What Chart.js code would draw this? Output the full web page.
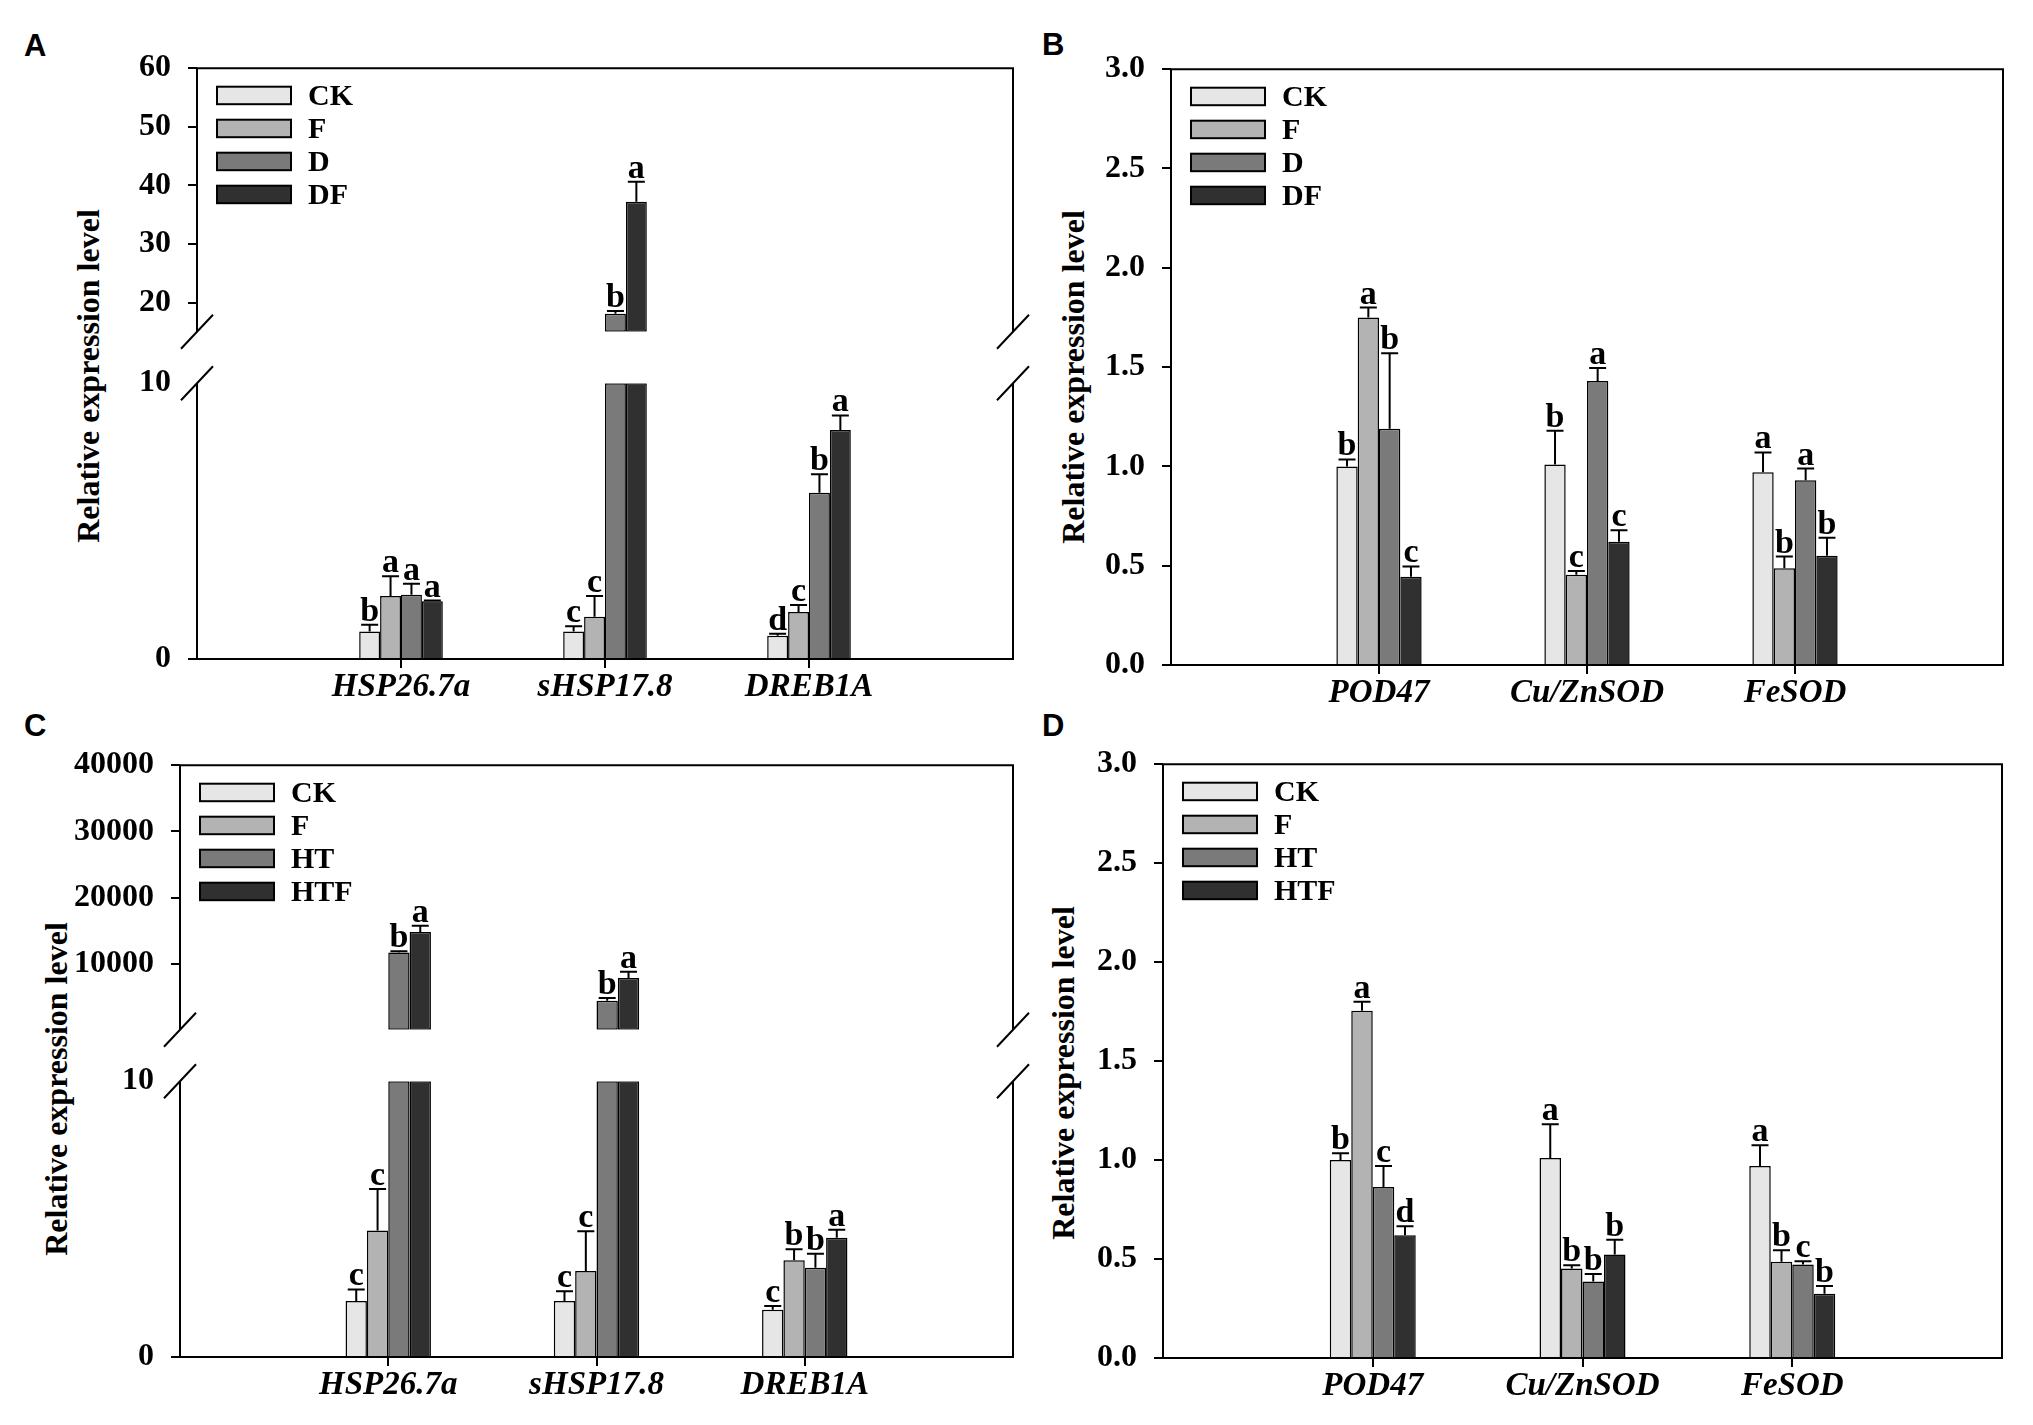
<!DOCTYPE html>
<html>
<head>
<meta charset="utf-8">
<title>Relative expression level</title>
<script src="https://cdn.jsdelivr.net/npm/chart.js@4.4.1/dist/chart.umd.min.js"></script>
<style>
  html, body { margin: 0; padding: 0; background: #fff; }
  body { width: 2033px; height: 1425px; position: relative; overflow: hidden; }
  canvas { position: absolute; }
  .tag { position: absolute; font-family: 'Liberation Sans', Arial, sans-serif; font-weight: bold; font-size: 31px; line-height: 1; }
  .ytitle { position: absolute; font-family: 'Liberation Serif', 'Times New Roman', serif; font-weight: bold; font-size: 32px; line-height: 1; white-space: nowrap; transform: translate(-50%, -50%) rotate(-90deg); }
</style>
</head>
<body>
<div class="tag" style="left:24px;top:30px">A</div>
<div class="tag" style="left:1042px;top:29px">B</div>
<div class="tag" style="left:24px;top:710px">C</div>
<div class="tag" style="left:1042px;top:710px">D</div>

<div class="ytitle" style="left:88px;top:376px">Relative expression level</div>
<div class="ytitle" style="left:1073px;top:377px">Relative expression level</div>
<div class="ytitle" style="left:56px;top:1089px">Relative expression level</div>
<div class="ytitle" style="left:1063px;top:1073px">Relative expression level</div>

<canvas id="aUp"></canvas>
<canvas id="aLow"></canvas>
<canvas id="bFull"></canvas>
<canvas id="cUp"></canvas>
<canvas id="cLow"></canvas>
<canvas id="dFull"></canvas>

<script>
// --- DADOS ---
const genesAC = ['HSP26.7a', 'sHSP17.8', 'DREB1A'];
const genesBD = ['POD47', 'Cu/ZnSOD', 'FeSOD'];
const seriesAB = ['CK', 'F', 'D', 'DF'];
const seriesCD = ['CK', 'F', 'HT', 'HTF'];

// painel A
const aCK = [1.00, 1.00, 0.84];
const aF = [2.28, 1.53, 1.70];
const aD = [2.33, 18.1, 6.03];
const aDF = [2.09, 37.2, 8.30];
const aErrCK = [0.24, 0.19, 0.08];
const aErrF = [0.72, 0.75, 0.26];
const aErrD = [0.40, 0.45, 0.67];
const aErrDF = [0.03, 3.4, 0.53];
const aSigCK = ['b', 'c', 'd'];
const aSigF = ['a', 'c', 'c'];
const aSigD = ['a', 'b', 'b'];
const aSigDF = ['a', 'a', 'a'];
const aTicksUp = [20, 30, 40, 50, 60];
const aTicksLow = [0, 10];

// painel B
const bCK = [1.00, 1.01, 0.97];
const bF = [1.75, 0.455, 0.487];
const bD = [1.19, 1.43, 0.93];
const bDF = [0.444, 0.62, 0.55];
const bErrCK = [0.035, 0.17, 0.10];
const bErrF = [0.05, 0.018, 0.059];
const bErrD = [0.38, 0.066, 0.059];
const bErrDF = [0.052, 0.059, 0.091];
const bSigCK = ['b', 'b', 'a'];
const bSigF = ['a', 'c', 'b'];
const bSigD = ['b', 'a', 'a'];
const bSigDF = ['c', 'c', 'b'];

// painel C
const cCK = [2.03, 2.03, 1.71];
const cF = [4.59, 3.12, 3.51];
const cHT = [11690, 4400, 3.24];
const cHTF = [14780, 7840, 4.32];
const cErrCK = [0.42, 0.35, 0.14];
const cErrF = [1.50, 1.44, 0.40];
const cErrHT = [190, 390, 0.50];
const cErrHTF = [960, 950, 0.29];
const cSigCK = ['c', 'c', 'c'];
const cSigF = ['c', 'c', 'b'];
const cSigHT = ['b', 'b', 'b'];
const cSigHTF = ['a', 'a', 'a'];
const cTicksUp = [10000, 20000, 30000, 40000];
const cTicksLow = [0, 10];

// painel D
const dCK = [1.00, 1.011, 0.97];
const dF = [1.755, 0.452, 0.486];
const dHT = [0.864, 0.386, 0.473];
const dHTF = [0.62, 0.523, 0.325];
const dErrCK = [0.034, 0.17, 0.105];
const dErrF = [0.045, 0.016, 0.059];
const dErrHT = [0.106, 0.039, 0.016];
const dErrHTF = [0.046, 0.075, 0.039];
const dSigCK = ['b', 'a', 'a'];
const dSigF = ['a', 'b', 'b'];
const dSigHT = ['c', 'b', 'c'];
const dSigHTF = ['d', 'b', 'b'];

const ticksBD = [0, 0.5, 1.0, 1.5, 2.0, 2.5, 3.0];

// --- ESTILO ---
const FONT = 'Liberation Serif';
const barColors = ['#e6e6e6', '#b3b3b3', '#7a7a7a', '#303030'];
const CLEAR = 'rgba(0,0,0,0)';

// monta um grafico (ou metade de um eixo quebrado)
function panelChart(id, area, p) {
    const yW = 130, padTop = 30, padRight = 40;
    const padBottom = p.mode === 'upper' ? 25 : 0;
    const xH = p.mode === 'upper' ? 0 : 70;
    const cv = document.getElementById(id);
    cv.width = area.right - area.left + yW + padRight;
    cv.height = area.bottom - area.top + padTop + padBottom + xH;
    cv.style.left = (area.left - yW) + 'px';
    cv.style.top = (area.top - padTop) + 'px';

    const labels = ['', ...p.genes, ''];
    const datasets = p.series.map((name, i) => {
        const vals = [null, ...p.values[i], null];
        let data = vals;
        if (p.mode === 'lower') data = vals.map(v => v == null ? null : Math.min(v, p.max));
        if (p.mode === 'upper') data = vals.map(v => (v != null && v > p.cut) ? [p.min, v] : null);
        return {
            label: name, data, vals,
            errs: [null, ...p.errs[i], null],
            sigs: [null, ...p.sigs[i], null],
            backgroundColor: barColors[i], borderColor: '#000', borderWidth: 1.5,
            borderSkipped: p.mode === 'upper' ? false : 'start',
            categoryPercentage: 0.41, barPercentage: 1
        };
    });

    const shown = v => v != null && !(p.mode === 'lower' && v > p.max) && !(p.mode === 'upper' && v <= p.cut);

    // barras de erro + letras
    const errPlugin = {
        id: 'errs',
        afterDatasetsDraw(chart) {
            const ctx = chart.ctx, ys = chart.scales.y;
            ctx.save();
            chart.data.datasets.forEach((ds, di) => {
                chart.getDatasetMeta(di).data.forEach((bar, k) => {
                    const v = ds.vals[k];
                    if (!shown(v)) return;
                    const top = ys.getPixelForValue(v + ds.errs[k]);
                    const base = ys.getPixelForValue(v);
                    ctx.strokeStyle = '#000';
                    ctx.lineWidth = 2;
                    ctx.beginPath();
                    ctx.moveTo(bar.x, base); ctx.lineTo(bar.x, top);
                    ctx.moveTo(bar.x - 8.5, top); ctx.lineTo(bar.x + 8.5, top);
                    ctx.stroke();
                    ctx.fillStyle = '#000';
                    ctx.font = 'bold 34px "' + FONT + '"';
                    ctx.textAlign = 'center';
                    ctx.textBaseline = 'alphabetic';
                    ctx.fillText(ds.sigs[k], bar.x, top - 4);
                });
            });
            ctx.restore();
        }
    };

    // moldura e marcas de quebra
    const framePlugin = {
        id: 'frame',
        afterDatasetsDraw(chart) {
            const a = chart.chartArea, ctx = chart.ctx;
            ctx.save();
            ctx.strokeStyle = '#000';
            ctx.lineWidth = 2;
            ctx.beginPath();
            ctx.moveTo(a.left, a.top); ctx.lineTo(a.left, a.bottom);
            ctx.moveTo(a.right, a.top); ctx.lineTo(a.right, a.bottom);
            if (p.mode !== 'lower') { ctx.moveTo(a.left - 1, a.top); ctx.lineTo(a.right + 1, a.top); }
            if (p.mode !== 'upper') { ctx.moveTo(a.left - 1, a.bottom); ctx.lineTo(a.right + 1, a.bottom); }
            if (p.mode === 'upper' || p.mode === 'lower') {
                const yb = p.mode === 'upper' ? a.bottom : a.top;
                [a.left, a.right].forEach(x => { ctx.moveTo(x - 16, yb + 17); ctx.lineTo(x + 16, yb - 17); });
            }
            ctx.stroke();
            ctx.restore();
        }
    };

    // legenda no canto superior esquerdo
    const legendPlugin = {
        id: 'boxLegend',
        afterDraw(chart) {
            if (p.mode === 'lower') return;
            const a = chart.chartArea, ctx = chart.ctx;
            ctx.save();
            chart.data.datasets.forEach((ds, i) => {
                const y0 = a.top + 18.5 + i * 33;
                ctx.fillStyle = ds.backgroundColor;
                ctx.fillRect(a.left + 20, y0, 74, 17.5);
                ctx.strokeStyle = '#000';
                ctx.lineWidth = 2;
                ctx.strokeRect(a.left + 20, y0, 74, 17.5);
                ctx.fillStyle = '#000';
                ctx.font = 'bold 30px "' + FONT + '"';
                ctx.textAlign = 'left';
                ctx.textBaseline = 'middle';
                ctx.fillText(ds.label, a.left + 111, y0 + 10.5);
            });
            ctx.restore();
        }
    };

    return new Chart(cv.getContext('2d'), {
        type: 'bar',
        data: { labels, datasets },
        plugins: [errPlugin, framePlugin, legendPlugin],
        options: {
            responsive: false,
            animation: false,
            devicePixelRatio: 1,
            layout: { padding: { top: padTop, right: padRight, bottom: padBottom, left: 0 } },
            plugins: { legend: { display: false }, tooltip: { enabled: false } },
            scales: {
                x: {
                    type: 'category',
                    display: p.mode !== 'upper',
                    offset: false,
                    afterFit: s => { s.height = xH; },
                    grid: {
                        offset: false, drawOnChartArea: false, drawTicks: true, tickLength: 9,
                        lineWidth: 2, color: '#000',
                        tickColor: c => (c.tick && c.tick.label === '') ? CLEAR : '#000'
                    },
                    border: { display: false },
                    ticks: {
                        autoSkip: false, maxRotation: 0, minRotation: 0, padding: 0, color: '#000',
                        font: { family: FONT, size: 33, weight: 'bold', style: 'italic' }
                    }
                },
                y: {
                    min: p.min, max: p.max,
                    afterBuildTicks: s => { s.ticks = p.ticks.map(v => ({ value: v })); },
                    afterFit: s => { s.width = yW; },
                    grid: {
                        drawOnChartArea: false, drawTicks: true, tickLength: 9, lineWidth: 2, color: '#000',
                        tickColor: c => (p.mode === 'lower' && c.tick && c.tick.value === p.max) ? CLEAR : '#000'
                    },
                    border: { display: false },
                    ticks: {
                        padding: 17, color: '#000',
                        font: { family: FONT, size: 32, weight: 'bold' },
                        callback: v => p.fmt(v)
                    }
                }
            }
        }
    });
}

const plain = v => String(v);
const oneDec = v => Number(v).toFixed(1);

// Painel A (eixo quebrado)
const aVals = [aCK, aF, aD, aDF], aErrs = [aErrCK, aErrF, aErrD, aErrDF], aSigs = [aSigCK, aSigF, aSigD, aSigDF];
panelChart('aUp', { left: 197, right: 1013, top: 62, bottom: 343 },
    { mode: 'upper', genes: genesAC, series: seriesAB, values: aVals, errs: aErrs, sigs: aSigs, min: 15, max: 60, cut: 10, ticks: aTicksUp, fmt: plain });
panelChart('aLow', { left: 197, right: 1013, top: 377, bottom: 659 },
    { mode: 'lower', genes: genesAC, series: seriesAB, values: aVals, errs: aErrs, sigs: aSigs, min: 0, max: 10, ticks: aTicksLow, fmt: plain });

// Painel B
panelChart('bFull', { left: 1171, right: 2003, top: 63, bottom: 665 },
    { mode: 'full', genes: genesBD, series: seriesAB, values: [bCK, bF, bD, bDF], errs: [bErrCK, bErrF, bErrD, bErrDF],
      sigs: [bSigCK, bSigF, bSigD, bSigDF], min: 0, max: 3, ticks: ticksBD, fmt: oneDec });

// Painel C (eixo quebrado)
const cVals = [cCK, cF, cHT, cHTF], cErrs = [cErrCK, cErrF, cErrHT, cErrHTF], cSigs = [cSigCK, cSigF, cSigHT, cSigHTF];
panelChart('cUp', { left: 180, right: 1013, top: 759, bottom: 1041 },
    { mode: 'upper', genes: genesAC, series: seriesCD, values: cVals, errs: cErrs, sigs: cSigs, min: 0, max: 40000, cut: 10, ticks: cTicksUp, fmt: plain });
panelChart('cLow', { left: 180, right: 1013, top: 1075, bottom: 1357 },
    { mode: 'lower', genes: genesAC, series: seriesCD, values: cVals, errs: cErrs, sigs: cSigs, min: 0, max: 10, ticks: cTicksLow, fmt: plain });

// Painel D
panelChart('dFull', { left: 1163, right: 2002, top: 758, bottom: 1358 },
    { mode: 'full', genes: genesBD, series: seriesCD, values: [dCK, dF, dHT, dHTF], errs: [dErrCK, dErrF, dErrHT, dErrHTF],
      sigs: [dSigCK, dSigF, dSigHT, dSigHTF], min: 0, max: 3, ticks: ticksBD, fmt: oneDec });
</script>
</body>
</html>
